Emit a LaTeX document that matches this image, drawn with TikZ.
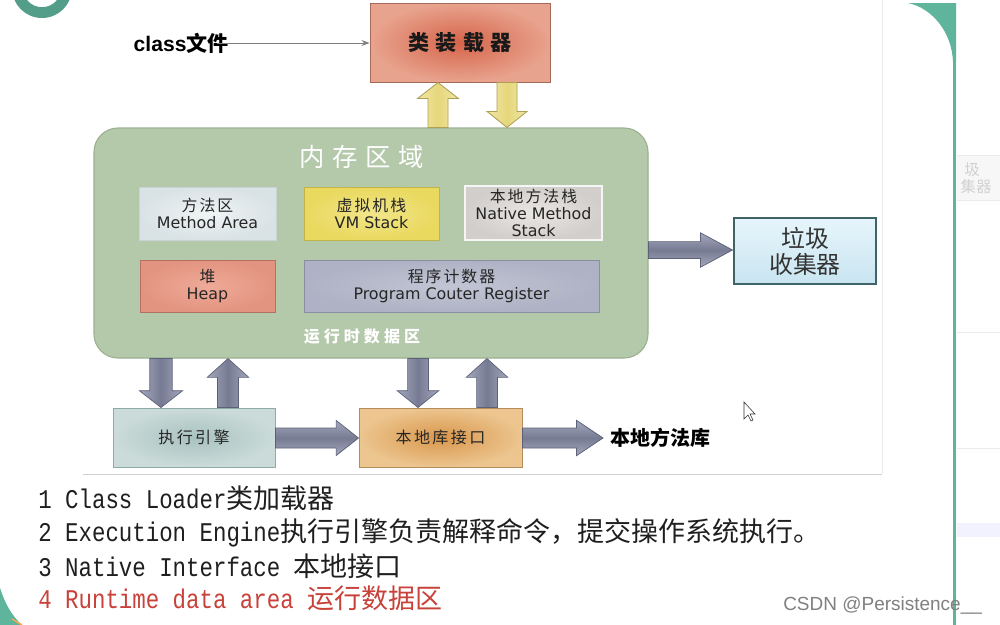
\documentclass[tikz,border=0pt]{standalone}
\usepackage{fontspec}
\usetikzlibrary{calc,fit,arrows.meta}
\newfontfamily\cjk{Noto Sans CJK SC}
\newfontfamily\dv{DejaVu Sans}
\newfontfamily\mono[FakeStretch=0.83]{Liberation Mono}
\newfontfamily\lib{Liberation Sans}
\definecolor{tealc}{HTML}{5FB59C}
\definecolor{tealdk}{HTML}{529E89}
\definecolor{memfill}{HTML}{B4C8AA}
\definecolor{memdraw}{HTML}{9CB092}
\definecolor{garr}{HTML}{767B93}
\definecolor{garrl}{HTML}{A4A8BC}
\definecolor{garrd}{HTML}{5C6179}
\definecolor{yarr}{HTML}{E6D77C}
\definecolor{yarrl}{HTML}{F0E6A6}
\definecolor{yarrd}{HTML}{ADA055}
\definecolor{redtxt}{HTML}{C8423A}
\definecolor{ldin}{HTML}{D6644A}\definecolor{ldout}{HTML}{E8A38E}\definecolor{lddr}{HTML}{A46A58}
\definecolor{mtin}{HTML}{F0F4F5}\definecolor{mtout}{HTML}{D9E2E5}\definecolor{mtdr}{HTML}{C9D2D5}
\definecolor{vmin}{HTML}{F2E68A}\definecolor{vmout}{HTML}{E9D95F}\definecolor{vmdr}{HTML}{C2B348}
\definecolor{nmin}{HTML}{E9E6E3}\definecolor{nmout}{HTML}{D2CECB}\definecolor{nmdr}{HTML}{F5F5F5}
\definecolor{hpin}{HTML}{EEAA98}\definecolor{hpout}{HTML}{E39480}\definecolor{hpdr}{HTML}{B27262}
\definecolor{pcin}{HTML}{C2C5D4}\definecolor{pcout}{HTML}{AEB2C4}\definecolor{pcdr}{HTML}{8A8EA2}
\definecolor{exin}{HTML}{A9C3C0}\definecolor{exout}{HTML}{CBDBD9}\definecolor{exdr}{HTML}{90AAA7}
\definecolor{nain}{HTML}{D9974C}\definecolor{naout}{HTML}{ECC58F}\definecolor{nadr}{HTML}{B68C5C}
\definecolor{gctop}{HTML}{E6F5FB}\definecolor{gcbot}{HTML}{C9E5F1}\definecolor{gcdr}{HTML}{3F6468}
\makeatletter
\newcommand\ls[2]{\def\ls@sep{}\@tfor\ls@c:=#2\do{\ls@sep\ls@c\def\ls@sep{\hspace{#1}}}}
\makeatother
% block arrow: style, start, end, shaft half width, head half width, head length
\newcommand\barrow[6]{%
  \path #2 coordinate (ba-a) #3 coordinate (ba-b);
  \path ($(ba-b)!#6!(ba-a)$) coordinate (ba-h);
  \path[#1] ($(ba-a)!#4!90:(ba-b)$) -- ($(ba-h)!#4!90:(ba-b)$) -- ($(ba-h)!#5!90:(ba-b)$) -- (ba-b) -- ($(ba-h)!#5!-90:(ba-b)$) -- ($(ba-h)!#4!-90:(ba-b)$) -- ($(ba-a)!#4!-90:(ba-b)$) -- cycle;
}
\begin{document}
\begin{tikzpicture}[x=0.025cm,y=-0.025cm,
  box/.style={inner sep=0pt, line width=0.7pt},
  lbl/.style={inner sep=0pt, align=center, text=black!85},
  btxt/.style={inner sep=0pt, anchor=west, font=\cjk\fontsize{19.2}{23}\selectfont},
  vgray/.style={left color=garrl, right color=garrl, middle color=garr, draw=garrd, line width=0.5pt},
  hgray/.style={top color=garrl, bottom color=garrl, middle color=garr, draw=garrd, line width=0.5pt},
  vyel/.style={left color=yarrl, right color=yarrl, middle color=yarr, draw=yarrd, line width=0.6pt},
  small/.style={font=\fontsize{11.3}{12}\selectfont}
]
\useasboundingbox (0,0) rectangle (1000,625);
\clip (0,0) rectangle (1000,625);
\fill[white] (0,0) rectangle (1000,625);

% decorations of the screenshot
\fill[tealdk, even odd rule] (42,-12) circle[radius=0.75cm] (42,-12) circle[radius=0.48cm];
\fill[tealc] (908,3) .. controls (932,8) and (952,32) .. (953,62) -- (956,62) -- (956,3) -- cycle;
\draw[tealc, line width=1.6pt] (954.5,40) -- (954.5,625);
\fill[tealc] (0,588) .. controls (5,603) and (11,615) .. (22,625) -- (0,625) -- cycle;
\draw[orange!70, line width=1pt] (12,619) -- (22,625);
\draw[black!8, line width=0.5pt] (882,0) -- (882,474);
\fill[black!3] (957,155) rectangle (1000,200);
\draw[black!8] (957,155) -- (1000,155) (957,200) -- (1000,200) (957,332) -- (1000,332) (957,448) -- (1000,448);
\fill[blue!5] (957,523) rectangle (1000,537);
\node[font=\cjk\fontsize{11}{12}\selectfont, text=black!18, inner sep=0] (sb1) at (972,170) {圾};
\node[font=\cjk\fontsize{11}{12}\selectfont, text=black!18, inner sep=0] (sb2) at (976,187) {集器};

% memory area
\node[fill=memfill, draw=memdraw, line width=0.8pt, rounded corners=0.6cm, inner sep=0pt, fit={(94,128) (648,358)}] (mem) {};
\node[text=white, font=\cjk\fontsize{18}{20}\selectfont] (memt) at (362,157) {\ls{0.19cm}{内存区域}};
\node[text=white, font=\cjk\bfseries\fontsize{11.4}{13}\selectfont] (rt) at (362,337) {\ls{0.1cm}{运行时数据区}};

\node[box, fit={(139,187) (276,240)}, inner color=mtin, outer color=mtout, draw=mtdr] (meth) {};
\node[lbl, small] (methl) at (meth.center) {{\cjk\ls{0.05cm}{方法区}}\\{\dv Method Area}};
\node[box, fit={(304,187) (439,240)}, inner color=vmin, outer color=vmout, draw=vmdr] (vms) {};
\node[lbl, small] (vmsl) at (vms.center) {{\cjk\ls{0.05cm}{虚拟机栈}}\\{\dv VM Stack}};
\node[box, fit={(465,186) (602,240)}, inner color=nmin, outer color=nmout, draw=nmdr, line width=1.4pt] (nms) {};
\node[lbl, small] (nmsl) at (nms.center) {{\cjk\ls{0.05cm}{本地方法栈}}\\{\dv Native Method}\\{\dv Stack}};
\node[box, fit={(140,260) (275,312)}, inner color=hpin, outer color=hpout, draw=hpdr] (heap) {};
\node[lbl, small] (heapl) at (heap.center) {{\cjk 堆}\\{\dv Heap}};
\node[box, fit={(304,260) (599,312)}, inner color=pcin, outer color=pcout, draw=pcdr] (pc) {};
\node[lbl, small] (pcl) at (pc.center) {{\cjk\ls{0.05cm}{程序计数器}}\\{\dv Program Couter Register}};

% class loader
\node[box, fit={(370,3) (550,82)}, inner color=ldin, outer color=ldout, draw=lddr] (loader) {};
\node[lbl, text=black!90, font=\cjk\bfseries\fontsize{15}{17}\selectfont] (loaderl) at (loader.center) {\ls{0.15cm}{类装载器}};
\node[inner sep=0pt, anchor=east, font=\bfseries\fontsize{15}{17}\selectfont] (cls) at (229,43) {{\lib class}{\cjk 文件}};
\draw[black!50, line width=0.6pt, -{Stealth[length=0.2cm,width=0.15cm]}] ([xshift=-0.3cm]cls.east) -- (loader.west |- cls.east);

% garbage collector
\node[box, fit={(734,218) (876,284)}, top color=gctop, bottom color=gcbot, draw=gcdr, line width=2.1pt] (gc) {};
\node[lbl, font=\cjk\fontsize{17}{18.5}\selectfont, text=black!80] (gcl) at (gc.center) {垃圾\\收集器};

% bottom boxes
\node[box, fit={(113,408) (275,467)}, inner color=exin, outer color=exout, draw=exdr] (exe) {};
\node[lbl, font=\cjk\fontsize{11.4}{13}\selectfont] (exel) at (exe.center) {\ls{0.06cm}{执行引擎}};
\node[box, fit={(359,408) (522,467)}, inner color=nain, outer color=naout, draw=nadr] (nat) {};
\node[lbl, font=\cjk\fontsize{11.4}{13}\selectfont] (natl) at (nat.center) {\ls{0.06cm}{本地库接口}};
\node[inner sep=0pt, anchor=west, font=\cjk\bfseries\fontsize{14.2}{16}\selectfont] (lib) at (610,438) {本地方法库};

% helper x positions
\coordinate (x161) at (161,0);
\coordinate (x228) at (228,0);
\coordinate (x418) at (418,0);
\coordinate (x487) at (487,0);
\coordinate (x438) at (438,0);
\coordinate (x507) at (507,0);
\coordinate (y250) at (0,250);
\coordinate (y438) at (0,438);

% yellow arrows
\barrow{vyel}{(mem.north -| x438)}{(loader.south -| x438)}{0.25cm}{0.51cm}{0.4cm}
\barrow{vyel}{(loader.south -| x507)}{(mem.north -| x507)}{0.25cm}{0.5cm}{0.4cm}
% gray arrows
\barrow{hgray}{(mem.east |- y250)}{(gc.west |- y250)}{0.21cm}{0.43cm}{0.8cm}
\barrow{vgray}{(mem.south -| x161)}{(exe.north -| x161)}{0.28cm}{0.54cm}{0.42cm}
\barrow{vgray}{(exe.north -| x228)}{(mem.south -| x228)}{0.26cm}{0.52cm}{0.47cm}
\barrow{vgray}{(mem.south -| x418)}{(nat.north -| x418)}{0.26cm}{0.52cm}{0.42cm}
\barrow{vgray}{(nat.north -| x487)}{(mem.south -| x487)}{0.26cm}{0.52cm}{0.47cm}
\barrow{hgray}{(exe.east |- y438)}{(nat.west |- y438)}{0.25cm}{0.44cm}{0.56cm}
\barrow{hgray}{(nat.east |- y438)}{($(lib.west |- y438)+(-7,0)$)}{0.25cm}{0.44cm}{0.66cm}

% cursor
\filldraw[fill=white, draw=black!80, line width=0.4pt] (744,402) -- (744,419) -- (748,415) -- (751,421) -- (753,420) -- (750,414) -- (755,414) -- cycle;

% separator
\draw[blue!15!black!18, line width=0.8pt] (83,474.5) -- (882,474.5);

% text lines
\node[btxt, text=black!88] (l1) at (38,498) {{\mono 1 Class Loader}类加载器};
\node[btxt, text=black!88] (l2) at (38,533) {{\mono 2 Execution Engine}执行引擎负责解释命令，提交操作系统执行。};
\node[btxt, text=black!88] (l3) at (38,566) {{\mono 3 Native Interface }本地接口};
\node[btxt, text=redtxt] (l4) at (38,598) {{\mono 4 Runtime data area }运行数据区};
\node[inner sep=0pt, anchor=west, font=\lib\fontsize{13.5}{15}\selectfont, text=black!50] (csdn) at (783,606) {CSDN @Persistence\_\_};
\end{tikzpicture}
\end{document}
